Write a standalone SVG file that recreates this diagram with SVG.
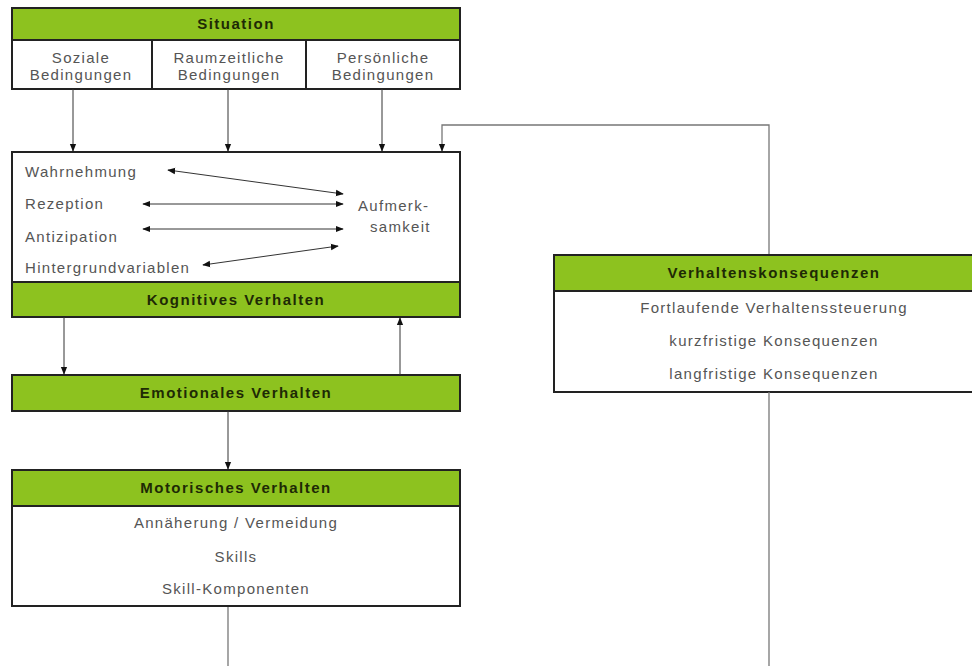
<svg xmlns="http://www.w3.org/2000/svg" width="972" height="666" viewBox="0 0 972 666">
<defs>
<style>
.box{fill:#fff;stroke:#222;stroke-width:2}
.hdr{fill:#8dc21f;stroke:#222;stroke-width:2}
.ht{font-family:"Liberation Sans",Arial,sans-serif;font-size:15px;font-weight:bold;fill:#1e2a05;text-anchor:middle;letter-spacing:1.5px}
.t{font-family:"Liberation Sans",Arial,sans-serif;font-size:15px;fill:#555;text-anchor:middle;letter-spacing:1.3px}
.tl{font-family:"Liberation Sans",Arial,sans-serif;font-size:15px;fill:#555;letter-spacing:1.3px}
.c{fill:none;stroke:#333;stroke-width:1}
.g{fill:none;stroke:#777;stroke-width:1.3}
</style>
<marker id="ah" viewBox="0 0 10 10" refX="9" refY="5" markerWidth="8" markerHeight="8" orient="auto-start-reverse" markerUnits="userSpaceOnUse">
<path d="M0,1 L10,5 L0,9 z" fill="#111"/>
</marker>
</defs>
<rect width="972" height="666" fill="#fff"/>

<g id="situation">
<rect class="hdr" x="12" y="8" width="448" height="32"/>
<text class="ht" x="236" y="29">Situation</text>
<rect class="box" x="12" y="40" width="448" height="49"/>
<line x1="152" y1="40" x2="152" y2="89" stroke="#222" stroke-width="2"/>
<line x1="306" y1="40" x2="306" y2="89" stroke="#222" stroke-width="2"/>
<text class="t" x="81" y="63">Soziale</text>
<text class="t" x="81" y="80">Bedingungen</text>
<text class="t" x="229" y="63">Raumzeitliche</text>
<text class="t" x="229" y="80">Bedingungen</text>
<text class="t" x="383" y="63">Persönliche</text>
<text class="t" x="383" y="80">Bedingungen</text>
</g>

<g id="kognitiv">
<rect class="box" x="12" y="152" width="448" height="165"/>
<rect class="hdr" x="12" y="282" width="448" height="35"/>
<text class="ht" x="236" y="305">Kognitives Verhalten</text>
<text class="tl" x="25" y="177">Wahrnehmung</text>
<text class="tl" x="25" y="209">Rezeption</text>
<text class="tl" x="25" y="242">Antizipation</text>
<text class="tl" x="25" y="273">Hintergrundvariablen</text>
<text class="tl" x="358" y="211">Aufmerk-</text>
<text class="tl" x="370" y="232">samkeit</text>
</g>

<g id="emotional">
<rect class="hdr" x="12" y="375" width="448" height="36"/>
<text class="ht" x="236" y="398">Emotionales Verhalten</text>
</g>

<g id="motorisch">
<rect class="box" x="12" y="470" width="448" height="136"/>
<rect class="hdr" x="12" y="470" width="448" height="36"/>
<text class="ht" x="236" y="493">Motorisches Verhalten</text>
<text class="t" x="236" y="528">Annäherung / Vermeidung</text>
<text class="t" x="236" y="562">Skills</text>
<text class="t" x="236" y="594">Skill-Komponenten</text>
</g>

<g id="konsequenzen">
<rect class="box" x="554" y="255" width="440" height="137"/>
<rect class="hdr" x="554" y="255" width="440" height="36"/>
<text class="ht" x="774" y="278">Verhaltenskonsequenzen</text>
<text class="t" x="774" y="313">Fortlaufende Verhaltenssteuerung</text>
<text class="t" x="774" y="346">kurzfristige Konsequenzen</text>
<text class="t" x="774" y="379">langfristige Konsequenzen</text>
</g>

<g id="connectors">
<line class="c" x1="73" y1="89" x2="73" y2="151" marker-end="url(#ah)"/>
<line class="c" x1="228" y1="89" x2="228" y2="151" marker-end="url(#ah)"/>
<line class="c" x1="382" y1="89" x2="382" y2="151" marker-end="url(#ah)"/>
<polyline class="g" points="769,666 769,392" />
<polyline class="g" points="769,254 769,125 442,125 442,151" marker-end="url(#ah)"/>
<line class="c" x1="168" y1="170" x2="343" y2="194" marker-start="url(#ah)" marker-end="url(#ah)"/>
<line class="c" x1="143" y1="204" x2="343" y2="204" marker-start="url(#ah)" marker-end="url(#ah)"/>
<line class="c" x1="143" y1="229" x2="343" y2="229" marker-start="url(#ah)" marker-end="url(#ah)"/>
<line class="c" x1="203" y1="265" x2="338" y2="246" marker-start="url(#ah)" marker-end="url(#ah)"/>
<line class="c" x1="64" y1="317" x2="64" y2="374" marker-end="url(#ah)"/>
<line class="c" x1="400" y1="375" x2="400" y2="318" marker-end="url(#ah)"/>
<line class="c" x1="228" y1="411" x2="228" y2="469" marker-end="url(#ah)"/>
<line class="g" x1="228" y1="607" x2="228" y2="666"/>
</g>
</svg>
